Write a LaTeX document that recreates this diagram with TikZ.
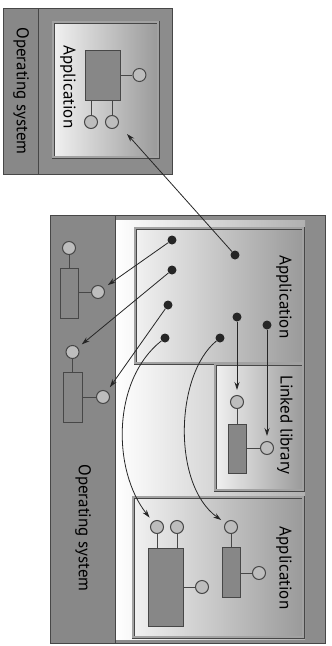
\documentclass[tikz,border=0pt]{standalone}
\usepackage{fontspec}
\setmainfont{PT Sans}
\usetikzlibrary{arrows.meta,positioning}
\definecolor{FrameGray}{HTML}{8C8C8C}
\definecolor{EdgeGray}{HTML}{474747}
\definecolor{PanelGray}{HTML}{A2A2A2}
\definecolor{PartGray}{HTML}{878787}
\definecolor{PortGray}{HTML}{BDBDBD}

\begin{document}
\begin{tikzpicture}[
      x=1pt,y=-1pt,
      frame/.style={draw=EdgeGray,fill=FrameGray,line width=0.9pt,
        inner sep=0pt,anchor=north west},
      osstrip/.style={frame,fill=FrameGray!97!black},
      backdrop/.style={inner sep=0pt,anchor=north west,
        left color=white,right color=PanelGray!85},
      appbox/.style={draw=EdgeGray,double=PanelGray,double distance=2.5pt,
        inner sep=0pt,anchor=north west,left color=white!85!PanelGray,
        middle color=PanelGray,right color=PanelGray!95!black},
      part/.style={draw=EdgeGray,fill=PartGray,line width=0.9pt,inner sep=0pt},
      port/.style={circle,draw=EdgeGray,fill=PortGray,line width=1pt,
        minimum size=13pt,inner sep=0pt},
      dot/.style={circle,fill=black!85,minimum size=9pt,inner sep=0pt},
      wire/.style={line width=0.9pt,draw=EdgeGray},
      call/.style={-{Stealth[length=8pt,width=5pt]},line width=0.8pt,
        draw=black!85,shorten >=5pt},
      tag/.style={rotate=-90,font=\fontsize{17}{20}\selectfont,text=black}
    ]
      \useasboundingbox (0,0) rectangle (332,646);

      % standalone host
      \node[frame,minimum width=169pt,minimum height=166pt] (host) at (3,8) {};
      \node[osstrip,minimum width=35pt,minimum height=166pt] (hostos) at (3,8) {};
      \node[tag] (hostostag) at (21,91) {Operating system};
      \node[appbox,minimum width=105pt,minimum height=135pt] (hostapp) at (53,22) {};
      \node[tag] (hostapptag) at (68,87) {Application};
      \node[part,minimum width=35pt,minimum height=50pt] (comptop) at (102.5,75) {};
      \node[port,right=12pt of comptop] (ptopr) {};
      \node[port] (ptopa) at (91,122) {};
      \node[port] (ptopb) at (112,122) {};
      \draw[wire] (comptop) -- (ptopr);
      \draw[wire] (comptop.south -| ptopa) -- (ptopa);
      \draw[wire] (comptop.south -| ptopb) -- (ptopb);
      \coordinate (hook) at (127,134);

      % main host
      \node[frame,minimum width=275pt,minimum height=428pt] (main) at (50,215) {};
      \node[backdrop,minimum width=190pt,minimum height=419pt] (inner) at (115,220) {};
      \node[osstrip,minimum width=65pt,minimum height=428pt] (mainos) at (50,215) {};
      \node[tag] (mainostag) at (83,528) {Operating system};

      \node[appbox,minimum width=168pt,minimum height=135pt] (appone) at (135,228) {};
      \node[tag] (apponetag) at (284,297) {Application};
      \node[appbox,minimum width=88pt,minimum height=126pt] (library) at (215,364) {};
      \node[tag] (librarytag) at (285,425) {Linked library};
      \node[appbox,minimum width=170pt,minimum height=140pt] (apptwo) at (133,497) {};
      \node[tag] (apptwotag) at (284,568) {Application};

      % system call entries
      \node[part,minimum width=18pt,minimum height=50pt] (compos1) at (69,293) {};
      \node[port] (pos1t) at (69,248) {};
      \node[port] (pos1r) at (98,292) {};
      \draw[wire] (compos1.north) -- (pos1t);
      \draw[wire] (compos1.east |- pos1r) -- (pos1r);
      \node[part,minimum width=19pt,minimum height=50pt] (compos2) at (72.5,397) {};
      \node[port] (pos2t) at (72.5,352) {};
      \node[port] (pos2r) at (103,397) {};
      \draw[wire] (compos2.north) -- (pos2t);
      \draw[wire] (compos2.east |- pos2r) -- (pos2r);

      % library entries
      \node[part,minimum width=18pt,minimum height=49pt] (complib) at (237,448.5) {};
      \node[port] (plibt) at (237,402) {};
      \node[port] (plibr) at (267,448) {};
      \draw[wire] (complib.north) -- (plibt);
      \draw[wire] (complib.east |- plibr) -- (plibr);

      % second application entries
      \node[part,minimum width=35pt,minimum height=78pt] (compbig) at (165.5,587) {};
      \node[port] (pbiga) at (157,527) {};
      \node[port] (pbigb) at (177,527) {};
      \node[port] (pbigr) at (202,587) {};
      \draw[wire] (compbig.north -| pbiga) -- (pbiga);
      \draw[wire] (compbig.north -| pbigb) -- (pbigb);
      \draw[wire] (compbig.east |- pbigr) -- (pbigr);
      \node[part,minimum width=18pt,minimum height=50pt] (compsmall) at (231,572.5) {};
      \node[port] (psmallt) at (231,527) {};
      \node[port] (psmallr) at (259,573) {};
      \draw[wire] (compsmall.north) -- (psmallt);
      \draw[wire] (compsmall.east |- psmallr) -- (psmallr);

      % call sites
      \node[dot] (sys1) at (172,240) {};
      \node[dot] (sys2) at (172,270) {};
      \node[dot] (sys3) at (168,305) {};
      \node[dot] (ipc1) at (165,338) {};
      \node[dot] (ipc2) at (220,338) {};
      \node[dot] (lib1) at (237,317) {};
      \node[dot] (lib2) at (267,325) {};
      \node[dot] (net) at (235,255) {};

      \draw[call] (sys1) -- (pos1r);
      \draw[call] (sys2) -- (pos2t);
      \draw[call] (sys3) -- (pos2r);
      \draw[call] (lib1) -- (plibt);
      \draw[call] (lib2) -- (plibr);
      \draw[call,shorten >=0pt] (net) -- (hook);
      \draw[call] (ipc1) .. controls (112,380) and (112,470) .. (pbiga);
      \draw[call] (ipc2) .. controls (175,375) and (172,485) .. (psmallt);
    \end{tikzpicture}
\end{document}
